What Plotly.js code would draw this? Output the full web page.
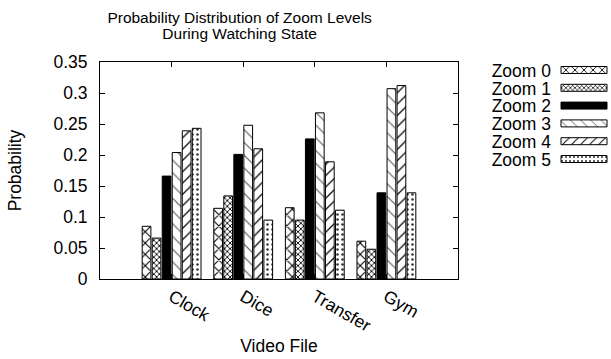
<!DOCTYPE html>
<html>
<head>
<meta charset="utf-8">
<script src="https://cdn.plot.ly/plotly-3.0.1.min.js"></script>
<style>
  html, body { margin: 0; padding: 0; background: #fff; }
  #chart { width: 611px; height: 359px; }
</style>
</head>
<body>
<div id="chart"></div>
<script>
// ---- data ----
const categories = ["Clock", "Dice", "Transfer", "Gym"];
const seriesNames = ["Zoom 0", "Zoom 1", "Zoom 2", "Zoom 3", "Zoom 4", "Zoom 5"];
const zoom0 = [0.085, 0.114, 0.115, 0.061];
const zoom1 = [0.066, 0.134, 0.095, 0.048];
const zoom2 = [0.166, 0.201, 0.226, 0.139];
const zoom3 = [0.204, 0.248, 0.268, 0.307];
const zoom4 = [0.239, 0.210, 0.189, 0.312];
const zoom5 = [0.243, 0.095, 0.111, 0.139];
const yTickVals = [0, 0.05, 0.1, 0.15, 0.2, 0.25, 0.3, 0.35];
const yTickText = ["0", "0.05", "0.1", "0.15", "0.2", "0.25", "0.3", "0.35"];

const seriesValues = [zoom0, zoom1, zoom2, zoom3, zoom4, zoom5];
const patterns = [
  {shape: "x", size: 8, solidity: 0.25, fg: "#000000"},
  {shape: "x", size: 4, solidity: 0.4, fg: "#000000"},
  null,
  {shape: "\\", size: 9, solidity: 0.12, fg: "#555555"},
  {shape: "/", size: 8, solidity: 0.15, fg: "#000000"},
  {shape: ".", size: 5, solidity: 0.2, fg: "#333333"}
];

const FONT = "Liberation Sans, Arial, Helvetica, sans-serif";
const FS = 17.5;

const traces = seriesValues.map((vals, i) => {
  const p = patterns[i];
  const marker = {
    color: p ? "#ffffff" : "#000000",
    line: {color: "#000000", width: 1}
  };
  if (p) {
    marker.pattern = {shape: p.shape, size: p.size, solidity: p.solidity,
                      fgcolor: p.fg, bgcolor: "#ffffff", fillmode: "replace"};
  }
  return {type: "bar", name: seriesNames[i], x: categories, y: vals, marker: marker};
});

const layout = {
  width: 611, height: 359,
  margin: {l: 100, r: 153, t: 62, b: 80},
  paper_bgcolor: "#ffffff", plot_bgcolor: "#ffffff",
  font: {family: FONT, size: FS, color: "#000000"},
  barmode: "group",
  bargap: 0.16,
  bargroupgap: 0.13,
  title: {
    text: "Probability Distribution of Zoom Levels<br>During Watching State",
    font: {family: FONT, size: 15.5, color: "#000"},
    x: 0.39, xref: "paper", xanchor: "center",
    y: 0.937, yref: "container", yanchor: "top"
  },
  xaxis: {
    type: "category",
    range: [-1, 4],
    tickangle: 30,
    ticks: "inside", ticklen: 5, tickcolor: "#000",
    showline: true, linecolor: "#000", linewidth: 1, mirror: "ticks",
    showgrid: false, zeroline: false,
    tickfont: {family: FONT, size: FS},
    title: {text: "Video File", font: {family: FONT, size: FS}, standoff: 4},
    automargin: false
  },
  yaxis: {
    range: [0, 0.35],
    tickvals: yTickVals, ticktext: yTickText,
    ticks: "inside", ticklen: 5, tickcolor: "#000",
    ticklabelstandoff: 8,
    showline: true, linecolor: "#000", linewidth: 1, mirror: "ticks",
    showgrid: false, zeroline: false,
    tickfont: {family: FONT, size: FS},
    title: {text: "Probability", font: {family: FONT, size: FS}, standoff: 27},
    automargin: false
  },
  legend: {
    x: 1, xanchor: "left", y: 1, yanchor: "top",
    bgcolor: "rgba(0,0,0,0)", borderwidth: 0,
    font: {family: FONT, size: FS},
    traceorder: "normal"
  },
  showlegend: true
};

function fixTitle(gd) {
  const lines = gd.querySelectorAll(".gtitle tspan.line");
  if (lines.length > 1) {
    lines[1].setAttribute("dy", "1.03em");
  }
}

function fixLegend(gd) {
  const leg = gd.querySelector(".legend");
  if (!leg) return;
  leg.setAttribute("transform", "translate(0,0)");
  leg.querySelectorAll("[clip-path]").forEach(e => e.removeAttribute("clip-path"));
  leg.querySelectorAll(".traces").forEach((t, i) => {
    t.setAttribute("transform", "translate(0," + (70 + i * 17.8) + ")");
    const txt = t.querySelector("text.legendtext");
    if (txt) {
      txt.setAttribute("x", 551);
      txt.setAttribute("text-anchor", "end");
    }
    const pts = t.querySelector(".legendpoints");
    if (pts) {
      pts.setAttribute("transform", "translate(564,0)");
      pts.querySelectorAll("path").forEach(p => p.setAttribute("d", "M-23,3.5H23V-3.5H-23Z"));
    }
  });
}

Plotly.newPlot("chart", traces, layout, {staticPlot: true, displayModeBar: false})
  .then(gd => { fixLegend(gd); fixTitle(gd); });
</script>
</body>
</html>
